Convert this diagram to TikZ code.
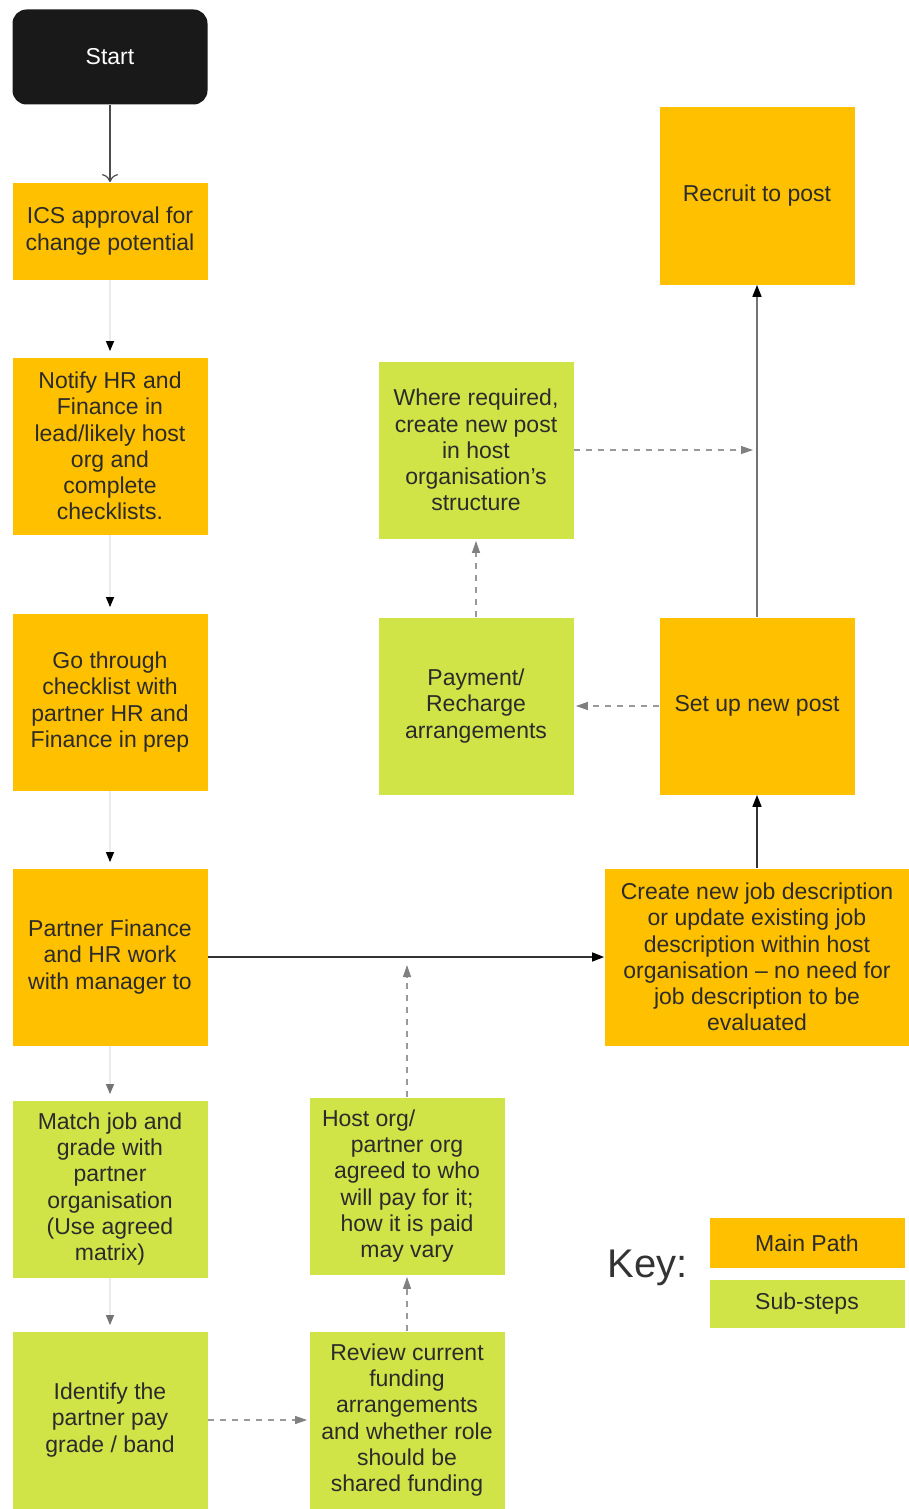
\documentclass[tikz,border=0pt]{standalone}
\usepackage{fontspec}
\setmainfont{Liberation Sans}
\usetikzlibrary{arrows.meta}
\definecolor{mainorange}{HTML}{FFC000}
\definecolor{subgreen}{HTML}{D0E448}
\definecolor{linktext}{HTML}{2B2B2B}

\begin{document}
\begin{tikzpicture}[x=0.5pt,y=-0.5pt,font=\fontsize{11.5}{13.1}\selectfont,
  main node/.style={rectangle,fill=mainorange,text=linktext,align=center,inner sep=0pt,minimum width=97.5pt,minimum height=88.5pt},
  sub node/.style={rectangle,fill=subgreen,text=linktext,align=center,inner sep=0pt,minimum width=97.5pt,minimum height=88.5pt},
  faint/.style={draw=black!8,line width=0.6pt,shorten >=3pt,-{Triangle[length=5pt,width=4pt,color=black]}},
  faint grey/.style={draw=black!8,line width=0.6pt,shorten >=3pt,-{Triangle[length=5pt,width=4pt,color=black!55]}},
  solid link/.style={draw=black!80,line width=0.8pt,-{Triangle[length=6pt,width=4.5pt,color=black]}},
  dash link/.style={draw=black!40,line width=0.6pt,dash pattern=on 3pt off 3pt,shorten >=1pt,-{Triangle[length=6pt,width=4pt,color=black!50]}}]
  \useasboundingbox (0,0) rectangle (909,1509);

  \node[rectangle,rounded corners=7pt,fill=black!90,text=white,minimum width=97.5pt,minimum height=47.5pt] (1) at (110,57) {Start};
  \node[main node,minimum height=48.5pt] (2) at (110,231) {ICS approval for\\change potential};
  \node[main node] (3) at (110,446) {Notify HR and\\Finance in\\lead/likely host\\org and\\complete\\checklists.};
  \node[main node] (4) at (110,702) {Go through\\checklist with\\partner HR and\\Finance in prep};
  \node[main node] (5) at (110,957) {Partner Finance\\and HR work\\with manager to};
  \node[sub node] (6) at (110,1189) {Match job and\\grade with\\partner\\organisation\\(Use agreed\\matrix)};
  \node[sub node] (7) at (110,1420) {Identify the\\partner pay\\grade / band};
  \node[sub node] (8) at (407,1420) {Review current\\funding\\arrangements\\and whether role\\should be\\shared funding};
  \node[sub node] (9) at (407,1186) {Host org/\hphantom{mmmm}\\partner org\\agreed to who\\will pay for it;\\how it is paid\\may vary};
  \node[main node,minimum width=152.5pt] (10) at (757,957) {Create new job description\\or update existing job\\description within host\\organisation – no need for\\job description to be\\evaluated};
  \node[main node] (11) at (757,706) {Set up new post};
  \node[sub node] (12) at (476,706) {Payment/\\Recharge\\arrangements};
  \node[sub node] (13) at (476,450) {Where required,\\create new post\\in host\\organisation's\\structure};
  \node[main node] (14) at (757,196) {Recruit to post};

  % key
  \node[text=black!80,font=\fontsize{20}{24}\selectfont] (15) at (648,1268) {Key:};
  \node[main node,minimum height=25pt] (16) at (807,1243) {Main Path};
  \node[sub node,minimum height=24pt] (17) at (807,1304) {Sub-steps};

  \coordinate (j1) at (407,957);
  \coordinate (j2) at (757,450);

\path
  (1) edge[draw=black!70,line width=0.6pt,-{To[length=4pt,width=8pt]}] (2)
  (2) edge[faint] (3)
  (3) edge[faint] (4)
  (4) edge[faint] (5)
  (5) edge[faint grey] (6)
  (6) edge[faint grey] (7)
  (5) edge[solid link] (10)
  (10) edge[solid link] (11)
  (11) edge[solid link,draw=black!55] (14)
  (7) edge[dash link] (8)
  (8) edge[dash link] (9)
  (9) edge[dash link,shorten >=4pt] (j1)
  (11) edge[dash link] (12)
  (12) edge[dash link] (13)
  (13) edge[dash link,shorten >=2pt] (j2)
;
\end{tikzpicture}
\end{document}
